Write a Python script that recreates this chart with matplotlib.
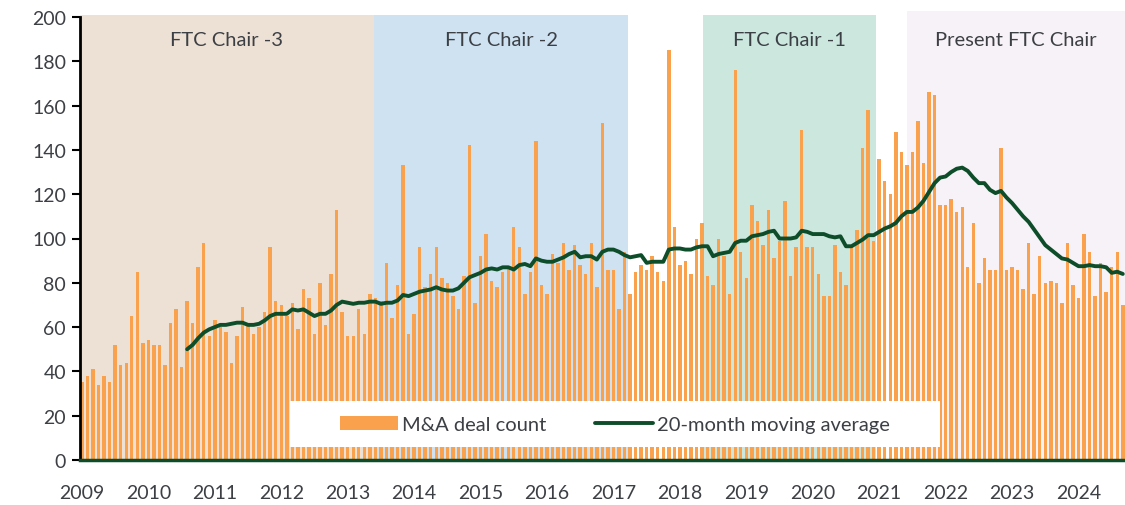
import numpy as np
import matplotlib
matplotlib.use("Agg")
import matplotlib.pyplot as plt
from matplotlib.patches import Rectangle

# Monthly M&A deal count, Jan 2009 - Sep 2024
deal_count = [35, 38, 41, 34, 38, 35, 52, 43, 44, 65, 85, 53,
              54, 52, 52, 43, 62, 68, 42, 72, 62, 87, 98, 56,
              63, 60, 58, 44, 56, 69, 62, 57, 60, 67, 96, 72,
              70, 65, 71, 59, 77, 73, 57, 80, 61, 84, 113, 67,
              56, 56, 68, 57, 75, 73, 72, 89, 64, 79, 133, 57,
              66, 96, 78, 84, 96, 82, 80, 74, 68, 83, 142, 71,
              92, 102, 81, 78, 85, 87, 105, 96, 75, 85, 144, 79,
              75, 93, 89, 98, 86, 97, 88, 84, 98, 78, 152, 86,
              86, 68, 94, 75, 85, 88, 86, 92, 85, 81, 185, 105,
              88, 90, 84, 100, 107, 83, 79, 100, 92, 75, 176, 94,
              82, 115, 108, 97, 113, 91, 99, 117, 83, 96, 149, 96,
              96, 84, 74, 74, 97, 85, 79, 96, 104, 141, 158, 99,
              136, 126, 120, 148, 139, 133, 139, 153, 134, 166, 165, 115,
              115, 118, 112, 114, 87, 107, 80, 91, 86, 86, 141, 86,
              87, 86, 77, 98, 75, 92, 80, 81, 80, 71, 98, 79,
              73, 102, 94, 74, 89, 76, 87, 94, 70]

# 20-month moving average (starts at month 20)
moving_avg = [50, 52, 55, 57.5, 59, 60, 61, 61, 61.5, 62, 62, 61, 61, 61.5, 63, 65,
              66, 66, 66, 68, 67.5, 68, 66.5, 65, 66, 66, 67.5, 70, 71.5, 71, 70.5, 71,
              71, 71.5, 71.5, 70.5, 71, 71, 72, 74.5, 74, 75, 76, 76.5, 77, 78, 77, 76.5,
              76.5, 77.5, 80, 82.5, 83.5, 84.5, 86, 86.5, 86, 87, 87, 86, 88, 88.5, 87.5, 91,
              90, 89.5, 89.5, 90.5, 91.5, 93, 94, 91.5, 92, 92, 90.5, 94, 95, 95, 94, 92.5,
              91.5, 92, 92.5, 89, 89.5, 89.5, 89.5, 95, 95.5, 95.5, 95, 95, 96, 96.5, 96.5, 92,
              93, 93.5, 94, 98, 99, 99, 101, 101.5, 102, 103, 103.5, 100, 100, 100, 100.5, 103.5,
              103, 102, 102, 102, 101, 100.5, 101, 96.5, 96.5, 98, 99.5, 101.5, 101.5, 103, 104.5, 105.5,
              107, 110, 112, 112, 114, 117, 121, 125, 127.5, 128, 130, 131.5, 132, 130.5, 127.5, 125,
              125, 122, 120.5, 121.5, 118.5, 116, 113, 110, 107.5, 104, 100.5, 97, 95, 93, 91, 90.5,
              89, 87.5, 87.5, 88, 87.5, 87.5, 87, 84.5, 85, 84]

year_labels = ['2009', '2010', '2011', '2012', '2013', '2014', '2015', '2016',
               '2017', '2018', '2019', '2020', '2021', '2022', '2023', '2024']

# FTC chair periods (start, end in month index) and labels
chair_names = ['FTC Chair -3', 'FTC Chair -2', 'FTC Chair -1', 'Present FTC Chair']
chair_start = [-0.35, 52.7, 112.1, 149.1]
chair_end = [52.7, 98.7, 143.4, 188.4]
chair_colors = ['#EDE0D4', '#CFE2F2', '#CBE7DE', '#F7F2F7']

text_color = '#3C3F44'
bar_color = '#F9A14C'
line_color = '#0E4D2A'

plt.rcParams['font.family'] = ['Lato', 'DejaVu Sans']

fig = plt.figure(figsize=(11.25, 5.06), dpi=100)
ax = fig.add_axes([80 / 1125, 45 / 506, 1045 / 1125, 443 / 506])

x = np.arange(len(deal_count))
x_ma = np.arange(19, 19 + len(moving_avg))

# Shaded chair periods
for name, s, e, c in zip(chair_names, chair_start, chair_end, chair_colors):
    top = 1.014 if name.startswith('Present') else 1.005
    ax.axvspan(s, e, ymin=0, ymax=top, color=c, lw=0, zorder=0, clip_on=False)
    ax.text((s + e) / 2, 190, name, ha='center', va='center',
            fontsize=14.5, color=text_color, zorder=6)

# Bars and moving average
bars = ax.bar(x, deal_count, width=0.62, color=bar_color, zorder=2,
              label='M&A deal count')
line, = ax.plot(x_ma, moving_avg, color=line_color, lw=2.8, zorder=4,
                solid_capstyle='round', label='20-month moving average')

# White box behind the legend
ax.add_patch(Rectangle((0.201, 0.0293), 0.622, 0.104, transform=ax.transAxes,
                       facecolor='white', edgecolor='none', zorder=3))
leg = ax.legend(handles=[bars, line], loc='center', bbox_to_anchor=(0.512, 0.081),
                ncol=2, frameon=False, fontsize=14.5, handlelength=2.9,
                handletextpad=0.2, columnspacing=2.4, labelcolor=text_color)
leg.set_zorder(5)

# Axes styling
ax.set_xlim(-0.35, 188.4)
ax.set_ylim(0, 200)
ax.set_yticks(np.arange(0, 201, 20))
ax.set_xticks(np.arange(0, len(year_labels) * 12, 12))
ax.set_xticklabels(year_labels)
ax.tick_params(axis='x', length=0, pad=17, labelsize=14, labelcolor=text_color)
ax.tick_params(axis='y', length=6, width=1.5, pad=4, labelsize=14,
               labelcolor=text_color, color='black')
for side in ['top', 'right']:
    ax.spines[side].set_visible(False)
ax.spines['left'].set_linewidth(2)
ax.spines['left'].set_color('black')
ax.spines['bottom'].set_linewidth(2.5)
ax.spines['bottom'].set_color(line_color)
ax.spines['bottom'].set_zorder(5)

plt.savefig('out.png', dpi=100)
